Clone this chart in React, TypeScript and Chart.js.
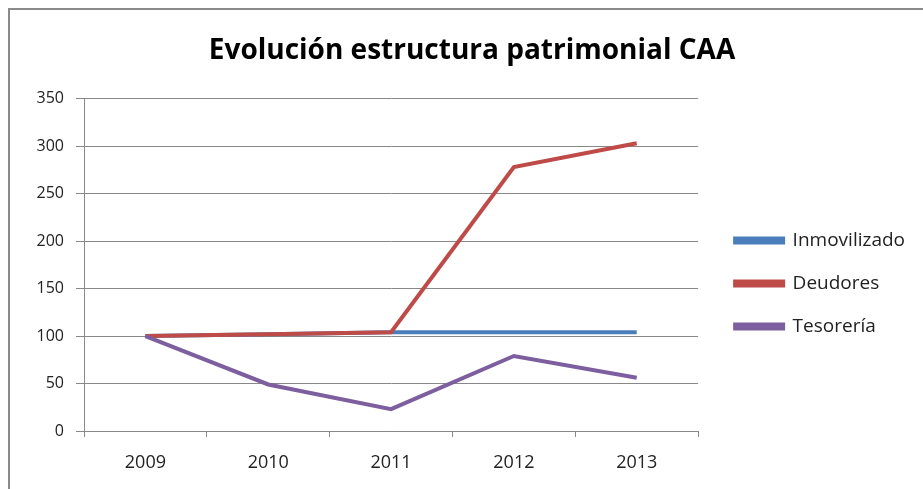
import React, { useEffect, useRef } from "react";
import { Chart, registerables } from "chart.js";

Chart.register(...registerables);

const categories = ["2009", "2010", "2011", "2012", "2013"];
const inmovilizado = [100, 102, 104, 104, 104];
const deudores = [100, 102, 104, 278, 303];
const tesoreria = [100, 49, 23, 79, 56];
const yTicks = [0, 50, 100, 150, 200, 250, 300, 350];

const FONT = "'Open Sans', 'Noto Sans', sans-serif";

const boxShift = {
  id: "boxShift",
  afterLayout(chart: any) {
    const lg = chart.legend;
    if (lg) {
      lg.left += 13;
      lg.right += 13;
    }
    const tb = chart.titleBlock;
    if (tb) {
      tb.left += 11;
      tb.right += 11;
    }
  },
};

export default function App() {
  const ref = useRef<HTMLCanvasElement | null>(null);

  useEffect(() => {
    if (!ref.current) return;
    const chart = new Chart(ref.current, {
      type: "line",
      data: {
        labels: categories,
        datasets: [
          {
            label: "Inmovilizado",
            data: inmovilizado,
            borderColor: "#4A7EBB",
            backgroundColor: "#4A7EBB",
            borderWidth: 4,
            pointRadius: 0,
            tension: 0,
            order: 3,
          },
          {
            label: "Deudores",
            data: deudores,
            borderColor: "#BE4B48",
            backgroundColor: "#BE4B48",
            borderWidth: 4,
            pointRadius: 0,
            tension: 0,
            order: 2,
          },
          {
            label: "Tesorería",
            data: tesoreria,
            borderColor: "#7D5FA0",
            backgroundColor: "#7D5FA0",
            borderWidth: 4,
            pointRadius: 0,
            tension: 0,
            order: 1,
          },
        ],
      },
      plugins: [boxShift],
      options: {
        animation: false,
        responsive: false,
        maintainAspectRatio: false,
        layout: { padding: { left: 10, right: 21, top: 0, bottom: 0 } },
        plugins: {
          title: {
            display: true,
            text: "Evolución estructura patrimonial CAA",
            color: "#000",
            font: { family: FONT, size: 28, weight: "bold" },
            padding: { top: 24, bottom: 31 },
          },
          legend: {
            position: "right",
            title: {
              display: true,
              text: " ",
              font: { size: 10 },
              padding: { top: 0, bottom: 56 },
            },
            labels: {
              boxWidth: 48,
              boxHeight: 4,
              padding: 24,
              color: "#222",
              font: { family: FONT, size: 19 },
              sort: (a: any, b: any) => a.datasetIndex - b.datasetIndex,
            },
          },
          tooltip: { enabled: false },
        },
        scales: {
          x: {
            offset: true,
            grid: {
              display: true,
              offset: true,
              drawOnChartArea: false,
              drawTicks: true,
              tickLength: 6,
              color: "#888",
            },
            border: { display: true, color: "#888", width: 1 },
            ticks: {
              color: "#222",
              font: { family: FONT, size: 18 },
              padding: 15,
              maxRotation: 0,
            },
            afterFit: (s: any) => {
              s.height = 58;
            },
          },
          y: {
            min: 0,
            max: 350,
            afterBuildTicks: (s: any) => {
              s.ticks = yTicks.map((v) => ({ value: v }));
            },
            grid: {
              color: "#888",
              lineWidth: 1,
              tickLength: 8,
            },
            border: { display: true, color: "#888", width: 1 },
            ticks: {
              color: "#222",
              font: { family: FONT, size: 16 },
              padding: 12,
            },
            afterFit: (s: any) => {
              s.width = 64;
            },
          },
        },
      },
    });
    return () => chart.destroy();
  }, []);

  return (
    <div
      style={{
        position: "fixed",
        left: 8,
        top: 8,
        width: 915,
        height: 481,
        borderTop: "2px solid #8a8a8a",
        borderLeft: "2px solid #8a8a8a",
        background: "#fff",
        overflow: "hidden",
      }}
    >
      <canvas ref={ref} width={913} height={479} style={{ display: "block" }} />
    </div>
  );
}
